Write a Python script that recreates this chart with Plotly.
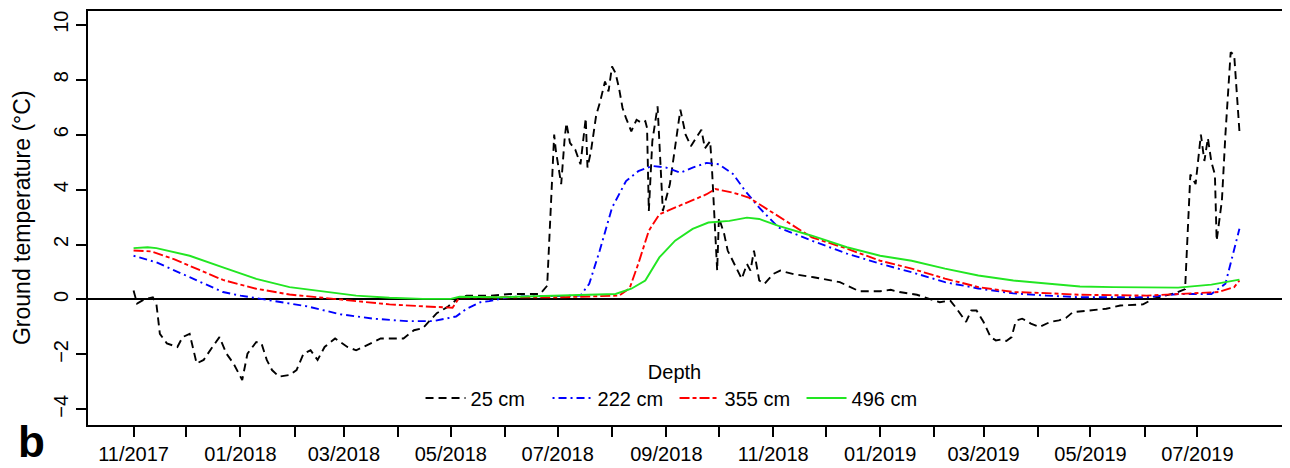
import plotly.graph_objects as go

# ---------------- data ----------------
d25 = ["2017-11-01","2017-11-03","2017-11-07","2017-11-12","2017-11-14","2017-11-16","2017-11-20","2017-11-26",
       "2017-11-29","2017-12-03","2017-12-07","2017-12-11","2017-12-16","2017-12-20","2017-12-24","2017-12-28",
       "2018-01-02","2018-01-05","2018-01-10","2018-01-13","2018-01-16","2018-01-19","2018-01-23","2018-01-29",
       "2018-02-02","2018-02-06","2018-02-10","2018-02-14","2018-02-18","2018-02-24","2018-03-03","2018-03-08",
       "2018-03-14","2018-03-22","2018-04-04","2018-04-10","2018-04-15","2018-04-23","2018-04-29","2018-05-05",
       "2018-05-10","2018-05-24","2018-06-04","2018-06-21","2018-06-25","2018-06-29","2018-06-30","2018-07-03",
       "2018-07-05","2018-07-06","2018-07-08","2018-07-11","2018-07-14","2018-07-17","2018-07-18","2018-07-20",
       "2018-07-23","2018-07-25","2018-07-28","2018-07-30","2018-08-01","2018-08-03","2018-08-05","2018-08-07",
       "2018-08-09","2018-08-12","2018-08-15","2018-08-18","2018-08-20","2018-08-21","2018-08-22","2018-08-24",
       "2018-08-27","2018-08-30","2018-09-03","2018-09-07","2018-09-09","2018-09-12","2018-09-15","2018-09-18",
       "2018-09-21","2018-09-23","2018-09-26","2018-09-27","2018-09-30","2018-10-01","2018-10-04","2018-10-06",
       "2018-10-10","2018-10-14","2018-10-17","2018-10-19","2018-10-21","2018-10-24","2018-10-27","2018-11-01",
       "2018-11-05","2018-11-12","2018-11-24","2018-12-09","2018-12-20","2019-01-01","2019-01-07","2019-01-12",
       "2019-01-22","2019-01-29","2019-02-04","2019-02-10","2019-02-13","2019-02-19","2019-02-22","2019-02-25",
       "2019-03-01","2019-03-05","2019-03-08","2019-03-11","2019-03-14","2019-03-17","2019-03-19","2019-03-20",
       "2019-03-23","2019-03-25","2019-03-28","2019-04-02","2019-04-08","2019-04-13","2019-04-17","2019-04-21",
       "2019-05-03","2019-05-10","2019-05-18","2019-05-31","2019-06-06","2019-06-13","2019-06-19","2019-06-24",
       "2019-06-25","2019-06-27","2019-06-30","2019-07-03","2019-07-05","2019-07-07","2019-07-09","2019-07-11",
       "2019-07-12","2019-07-15","2019-07-17","2019-07-20","2019-07-22","2019-07-25"]
t25 = [0.33,-0.15,0.0,0.08,-0.15,-1.25,-1.6,-1.73,
       -1.37,-1.25,-2.33,-2.2,-1.73,-1.37,-1.97,-2.33,
       -2.93,-1.97,-1.55,-1.6,-2.2,-2.57,-2.81,-2.75,
       -2.57,-1.97,-1.85,-2.2,-1.73,-1.42,-1.73,-1.85,
       -1.67,-1.42,-1.42,-1.12,-1.05,-0.5,-0.28,0.03,
       0.14,0.14,0.2,0.2,0.5,6.0,5.4,4.2,
       5.88,6.42,5.7,5.46,4.92,6.6,4.8,5.4,
       6.72,7.15,7.93,7.57,8.48,8.24,7.69,6.97,
       6.6,6.12,6.54,6.42,6.49,6.24,3.22,5.76,
       7.03,3.22,4.19,6.0,6.91,6.0,5.58,5.88,
       6.18,5.5,5.76,4.8,1.05,2.98,2.38,1.78,
       1.29,0.75,1.29,1.05,1.78,0.69,0.57,0.93,
       1.05,0.93,0.81,0.63,0.3,0.3,0.35,0.27,
       0.17,0.02,-0.1,-0.04,-0.28,-0.82,-0.4,-0.4,
       -0.82,-1.37,-1.49,-1.46,-1.51,-1.37,-0.88,-0.76,
       -0.7,-0.76,-0.88,-1.0,-0.82,-0.76,-0.67,-0.46,
       -0.4,-0.34,-0.22,-0.18,0.03,0.14,0.24,0.38,
       1.65,4.55,4.2,6.0,5.04,5.87,5.0,4.55,
       2.14,3.6,6.0,9.0,8.9,6.12]

d222 = ["2017-11-01","2017-11-14","2017-12-03","2017-12-22","2018-01-01","2018-01-20","2018-02-08","2018-02-27",
        "2018-03-18","2018-04-06","2018-04-21","2018-05-04","2018-05-10","2018-05-18","2018-05-23","2018-06-04",
        "2018-07-14","2018-07-19","2018-07-25","2018-08-01","2018-08-09","2018-08-16","2018-08-24","2018-09-01",
        "2018-09-09","2018-09-16","2018-09-24","2018-10-01","2018-10-09","2018-10-16","2018-10-24","2018-11-04",
        "2018-11-23","2018-12-13","2019-01-01","2019-01-19","2019-02-07","2019-02-26","2019-03-18","2019-04-06",
        "2019-04-25","2019-06-02","2019-06-11","2019-06-20","2019-07-09","2019-07-17","2019-07-25"]
t222 = [1.59,1.35,0.81,0.27,0.14,-0.06,-0.25,-0.54,
        -0.7,-0.79,-0.79,-0.62,-0.34,-0.1,-0.06,0.1,
        0.14,0.57,1.78,3.34,4.31,4.67,4.86,4.8,
        4.61,4.8,4.97,4.92,4.57,3.95,3.34,2.62,
        2.14,1.67,1.3,0.99,0.63,0.4,0.22,0.14,
        0.08,0.08,0.14,0.2,0.2,0.57,2.57]

d355 = ["2017-11-01","2017-11-11","2017-11-24","2017-12-07","2017-12-22","2018-01-10","2018-01-29","2018-02-17",
        "2018-03-08","2018-03-27","2018-04-15","2018-05-02","2018-05-06","2018-05-23","2018-07-03","2018-08-05",
        "2018-08-11","2018-08-16","2018-08-22","2018-08-28","2018-09-06","2018-09-16","2018-09-24","2018-09-29",
        "2018-10-09","2018-10-18","2018-10-28","2018-11-08","2018-11-23","2018-12-13","2019-01-01","2019-01-19",
        "2019-02-07","2019-02-26","2019-03-18","2019-04-06","2019-04-25","2019-06-02","2019-06-20","2019-07-13",
        "2019-07-22","2019-07-25"]
t355 = [1.78,1.75,1.47,1.11,0.71,0.39,0.18,0.06,
        -0.06,-0.18,-0.25,-0.3,0.08,0.08,0.08,0.14,
        0.4,1.3,2.5,3.1,3.34,3.59,3.83,4.02,
        3.89,3.71,3.3,2.86,2.26,1.85,1.41,1.12,
        0.76,0.45,0.27,0.23,0.17,0.14,0.2,0.27,
        0.45,0.69]

d496 = ["2017-11-01","2017-11-09","2017-11-14","2017-12-03","2017-12-22","2018-01-10","2018-01-29","2018-02-17",
        "2018-03-08","2018-03-27","2018-04-15","2018-05-01","2018-05-06","2018-05-28","2018-08-03","2018-08-12",
        "2018-08-20","2018-08-28","2018-09-06","2018-09-16","2018-09-25","2018-10-07","2018-10-17","2018-10-24",
        "2018-11-04","2018-11-23","2018-12-13","2019-01-01","2019-01-19","2019-02-07","2019-02-26","2019-03-18",
        "2019-04-06","2019-04-25","2019-05-14","2019-06-20","2019-07-09","2019-07-25"]
t496 = [1.87,1.9,1.87,1.59,1.17,0.75,0.45,0.29,
        0.14,0.06,0.02,0.02,0.1,0.08,0.2,0.39,
        0.69,1.53,2.14,2.57,2.8,2.86,2.98,2.93,
        2.68,2.32,1.9,1.59,1.41,1.12,0.87,0.69,
        0.57,0.47,0.45,0.43,0.54,0.72]

tick_dates = ["2017-11-01","2017-12-01","2018-01-01","2018-02-01","2018-03-01","2018-04-01","2018-05-01",
              "2018-06-01","2018-07-01","2018-08-01","2018-09-01","2018-10-01","2018-11-01","2018-12-01",
              "2019-01-01","2019-02-01","2019-03-01","2019-04-01","2019-05-01","2019-06-01","2019-07-01"]
tick_labels = ["11/2017","","01/2018","","03/2018","","05/2018","","07/2018","","09/2018","",
               "11/2018","","01/2019","","03/2019","","05/2019","","07/2019"]

series = [
    ("25 cm", d25, t25, "#000000", "8px,5px"),
    ("222 cm", d222, t222, "#0000ff", "2px,4px,8px,4px"),
    ("355 cm", d355, t355, "#ff0000", "10px,3px,4px,3px"),
    ("496 cm", d496, t496, "#22e622", "solid"),
]

FONT = "Liberation Sans, Arial, sans-serif"

fig = go.Figure()
for name, xs, ys, col, dash in series:
    fig.add_trace(go.Scatter(x=xs, y=ys, mode="lines", name=name,
                             line=dict(color=col, width=1.9, dash=dash)))

# the page body has an 8px margin: size the figure so it spans page px 8..1290 x 8..468
fig.update_layout(
    width=1282, height=460,
    margin=dict(l=80, r=5, t=1, b=43),
    paper_bgcolor="white", plot_bgcolor="white",
    font=dict(family=FONT, size=20, color="black"),
    showlegend=True,
    legend=dict(orientation="h", x=0.49, xanchor="center", y=0.175, yanchor="top",
                title=dict(text="Depth", side="top center", font=dict(size=20)),
                itemwidth=40, entrywidth=72, entrywidthmode="pixels",
                bgcolor="rgba(0,0,0,0)", font=dict(size=20)),
)

fig.update_xaxes(
    type="date", range=["2017-10-06", "2019-08-20"],
    tickvals=tick_dates, ticktext=tick_labels,
    ticks="outside", ticklen=10, tickwidth=1.5, tickcolor="black",
    showgrid=False, zeroline=False,
    showline=True, linecolor="black", linewidth=1.5, mirror=True,
    tickfont=dict(size=20),
)
fig.update_yaxes(
    range=[-4.57, 10.5], tickvals=[-4, -2, 0, 2, 4, 6, 8, 10],
    tickangle=-90, ticks="outside", ticklen=10, tickwidth=1.5, tickcolor="black",
    showgrid=False, zeroline=True, zerolinecolor="black", zerolinewidth=1.6,
    showline=True, linecolor="black", linewidth=1.5, mirror=True,
    tickfont=dict(size=20),
)

fig.add_annotation(text="Ground temperature (°C)", textangle=-90, showarrow=False,
                   xref="paper", yref="paper", x=-0.0551, y=0.5,
                   xanchor="center", yanchor="middle", font=dict(size=23))
fig.add_annotation(text="<b>b</b>", showarrow=False, xref="paper", yref="paper",
                   x=-0.0476, y=-0.04, xanchor="center", yanchor="middle",
                   font=dict(size=44))

fig.write_html("out.html")
